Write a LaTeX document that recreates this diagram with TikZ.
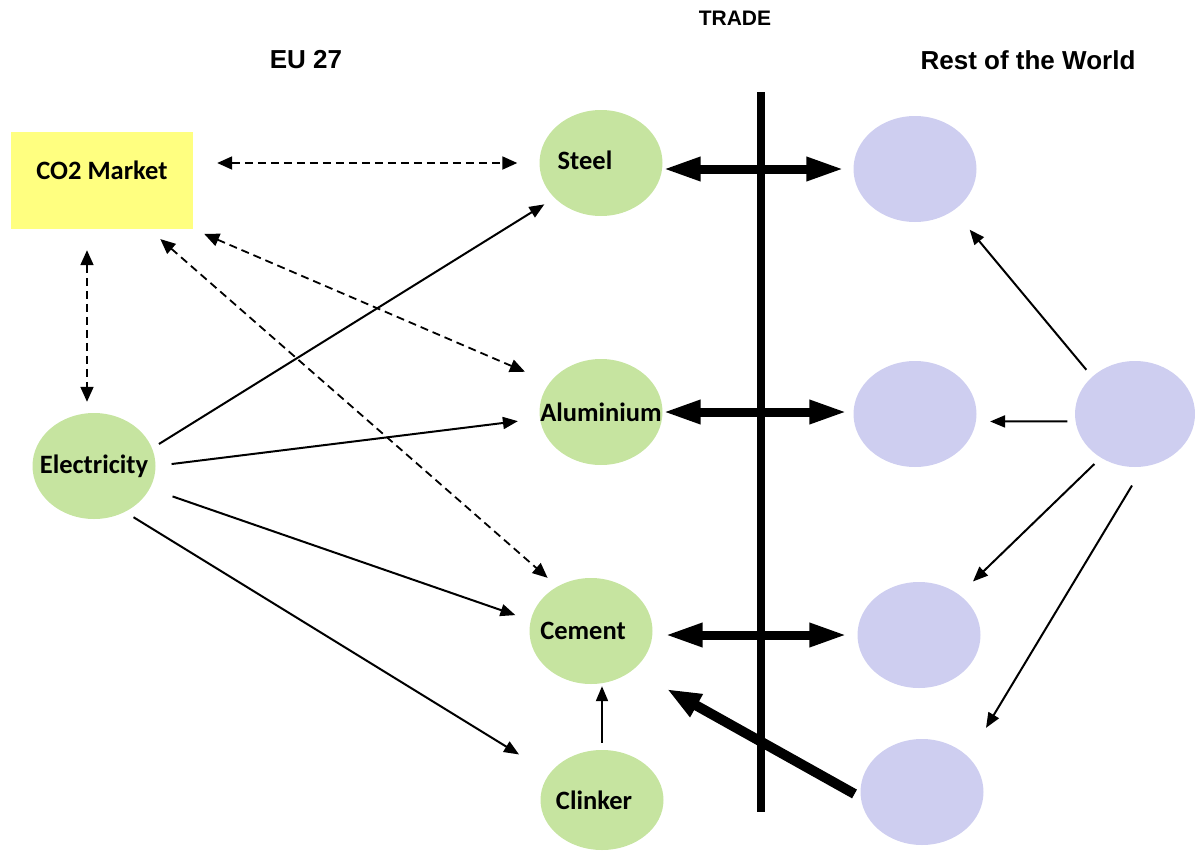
\documentclass[tikz,border=0pt]{standalone}
\usepackage{fontspec}
\setmainfont{Carlito}
\newfontfamily\headfont{Liberation Sans}
\usepackage{xcolor}
\usepackage{tikz}
\usetikzlibrary{arrows.meta,shapes.geometric}
\definecolor{eugreen}{RGB}{198,228,160}
\definecolor{rowblue}{RGB}{206,206,240}
\definecolor{co2yellow}{RGB}{255,255,128}
\tikzset{
  sector/.style={ellipse, fill=eugreen, inner sep=0pt,
    minimum width=123pt, minimum height=106pt},
  foreign/.style={ellipse, fill=rowblue, inner sep=0pt,
    minimum width=123pt, minimum height=106pt},
  market/.style={rectangle, fill=co2yellow, inner sep=0pt,
    minimum width=182pt, minimum height=97pt},
  lbl/.style={font=\fontsize{26.5}{30}\selectfont\bfseries, inner sep=0pt},
  heading/.style={font=\headfont\fontsize{26}{30}\selectfont\bfseries, inner sep=0pt},
  smallheading/.style={font=\headfont\fontsize{21}{24}\selectfont\bfseries, inner sep=0pt},
  link/.style={-{Triangle[length=15pt,width=12pt]}, line width=2pt},
  dlink/.style={{Triangle[length=15pt,width=13pt]}-{Triangle[length=15pt,width=13pt]},
    line width=1.8pt, dash pattern=on 8pt off 5pt},
  trade/.style={{Triangle[length=38pt,width=22pt]}-{Triangle[length=38pt,width=22pt]},
    line width=9pt},
  import/.style={-{Triangle[length=34pt,width=24pt]}, line width=10pt},
  border/.style={line width=8pt},
}

\begin{document}
\begin{tikzpicture}[x=1pt, y=-1pt]
  \useasboundingbox (0,0) rectangle (1195,854);

  \node[smallheading] (trade) at (735,18) {TRADE};
  \node[heading] (eu) at (306,60) {EU 27};
  \node[heading] (row) at (1028,60) {Rest of the World};

  \node[market, label={[lbl,yshift=10pt]center:CO2 Market}] (co2) at (102,180.5) {};
  \node[sector, label={[lbl,xshift=-16pt,yshift=3pt]center:Steel}] (steel) at (601,163) {};
  \node[sector, label={[lbl]center:Aluminium}] (alu) at (601,412) {};
  \node[sector, label={[lbl,xshift=-8pt]center:Cement}] (cement) at (591,631) {};
  \node[sector, minimum height=100pt, label={[lbl,xshift=-8pt]center:Clinker}] (clinker) at (602,800) {};
  \node[sector, label={[lbl]center:Electricity}] (elec) at (94,466) {};

  \node[foreign] (rsteel) at (915,169) {};
  \node[foreign] (ralu) at (915,414) {};
  \node[foreign] (rcement) at (919,635) {};
  \node[foreign] (rclinker) at (922,792) {};
  \node[foreign, minimum width=120pt] (rworld) at (1135,414) {};

  \coordinate (ttop) at (761,92);
  \coordinate (tbot) at (761,812);
  \draw[border] (ttop) -- (tbot);

  \draw[dlink, shorten <=24pt, shorten >=22pt] (co2.east |- steel.west) -- (steel.west);
  \draw[dlink, shorten <=21pt, shorten >=11pt]
    ([xshift=-7pt]elec.north |- co2.south) -- ([xshift=-7pt]elec.north);
  \draw[dlink, shorten <=12pt, shorten >=27pt] (co2.south east) -- (alu.150);
  \draw[dlink, shorten <=15pt, shorten >=13pt] (co2.-46) -- (cement.127);

  \draw[link, shorten <=8pt, shorten >=12pt] (elec.17) -- (steel.217);
  \draw[link, shorten <=16pt, shorten >=22pt] (elec.0) -- (alu.186);
  \draw[link, shorten <=24pt, shorten >=16pt] (elec.-22) -- (cement.170);
  \draw[link, shorten <=10pt, shorten >=36pt] (elec.-56) -- (clinker.153);
  \draw[link, shorten <=7pt, shorten >=2pt] (clinker.north) -- (clinker.north |- cement.south);

  \draw[link, shorten <=9pt, shorten >=25pt] (rworld.139) -- (rsteel.-47);
  \draw[link, shorten <=8pt, shorten >=14pt] (rworld.187) -- (ralu.-7);
  \draw[link, shorten <=9pt, shorten >=19pt] (rworld.232) -- (rcement.45);
  \draw[link, shorten <=22pt, shorten >=34pt] (rworld.-81) -- (rclinker.37);

  \draw[trade, shorten >=9pt] (steel.east |- rsteel.west) -- (rsteel.west);
  \draw[trade, shorten >=6pt] (alu.east) -- (alu.east -| ralu.west);
  \draw[trade, shorten <=12pt, shorten >=10pt] (cement.east |- rcement.west) -- (rcement.west);
  \draw[import, shorten <=7pt, shorten >=39pt] (rclinker.185) -- (cement.-43);
\end{tikzpicture}
\end{document}
